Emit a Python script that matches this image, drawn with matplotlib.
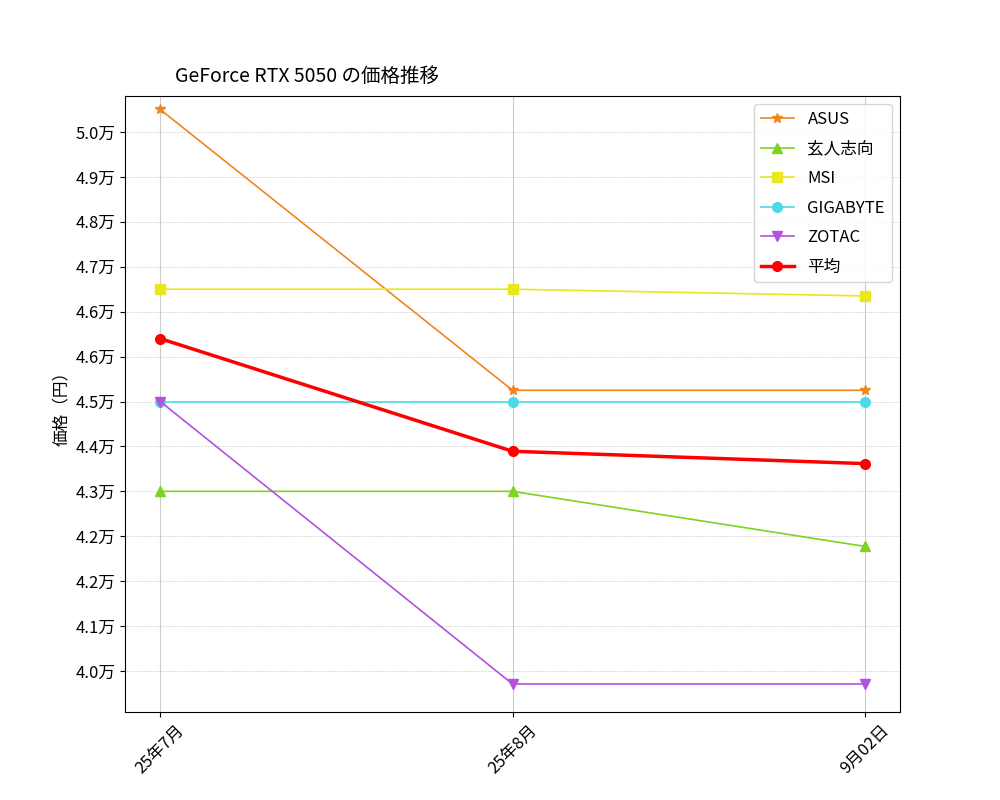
import matplotlib
matplotlib.use("Agg")
import matplotlib.pyplot as plt
from matplotlib.ticker import FixedLocator, FuncFormatter

plt.rcParams["font.family"] = ["Noto Sans CJK JP", "DejaVu Sans"]

dates = ["25年7月", "25年8月", "9月02日"]
asus = [50000, 45000, 45000]
genjin = [43200, 43200, 42220]
msi = [46800, 46800, 46680]
gigabyte = [44800, 44800, 44800]
zotac = [44800, 39770, 39770]
avg = [45920, 43914, 43694]
yticks = [40000 + 800 * i for i in range(13)]

fig, ax = plt.subplots(figsize=(10, 8), dpi=100)
x = range(len(dates))
ax.plot(x, asus, marker="*", color="#f0861e", lw=1.2, ms=7, label="ASUS")
ax.plot(x, genjin, marker="^", color="#7ed321", lw=1.2, ms=7, label="玄人志向")
ax.plot(x, msi, marker="s", color="#e8e81a", lw=1.2, ms=7, label="MSI")
ax.plot(x, gigabyte, marker="o", color="#4dd9e6", lw=1.2, ms=7, label="GIGABYTE")
ax.plot(x, zotac, marker="v", color="#b44fe0", lw=1.2, ms=7, label="ZOTAC")
ax.plot(x, avg, marker="o", color="#ff0000", lw=2.5, ms=7, label="平均")

ax.set_xticks(list(x))
ax.set_xticklabels(dates, rotation=45, fontsize=12)
ax.yaxis.set_major_locator(FixedLocator(yticks))
ax.yaxis.set_major_formatter(FuncFormatter(lambda v, p: f"{v/10000:.1f}万"))
ax.tick_params(axis="y", labelsize=12)
ax.set_ylim(39271, 50240)
ax.set_ylabel("価格（円）", fontsize=12)
ax.grid(axis="x", color="#cccccc", lw=0.8)
ax.grid(axis="y", color="#aaaaaa", lw=0.5, linestyle=":")
ax.set_title("GeForce RTX 5050 の価格推移", fontsize=14, loc="left", x=0.065, pad=10)
ax.legend(loc="upper right", fontsize=12, labelspacing=0.75)
fig.savefig("out.png")
